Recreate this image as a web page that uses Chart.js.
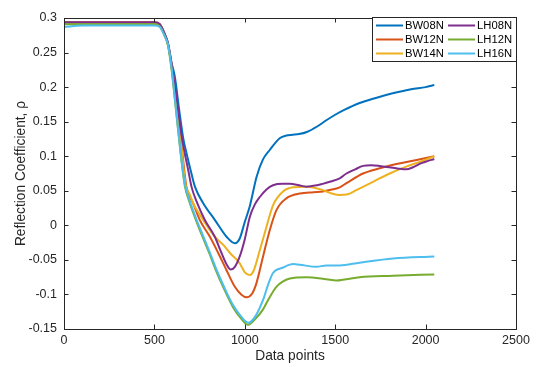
<!DOCTYPE html>
<html lang="en">
<head>
  <title>Reflection coefficient</title>
  <style>
    body {
      margin: 0;
      background: #ffffff;
    }
    #chart-container {
      width: 536px;
      height: 367px;
    }
  </style>
  <script src="https://cdn.jsdelivr.net/npm/chart.js"></script>
</head>
<body>
<div id="chart-container">
  <canvas id="lineChart" width="536" height="367"></canvas>
</div>
<script>
// Valori (x = data point, y = coefficiente di riflessione)
var bw08nX = [0, 250, 500, 530, 555, 575, 595, 613, 637, 660, 678, 700, 724, 770, 834, 899, 945, 972, 1000, 1028, 1065, 1100, 1138, 1193, 1230, 1265, 1300, 1343, 1400, 1451, 1500, 1550, 1635, 1720, 1818, 1920, 2000, 2048];
var bw08nY = [0.292, 0.292, 0.292, 0.290, 0.278, 0.263, 0.235, 0.215, 0.167, 0.125, 0.104, 0.080, 0.056, 0.032, 0.008, -0.0165, -0.026, -0.019, 0.005, 0.028, 0.070, 0.095, 0.109, 0.126, 0.130, 0.131, 0.132, 0.135, 0.143, 0.152, 0.160, 0.167, 0.177, 0.184, 0.191, 0.197, 0.200, 0.203];

var bw12nX = [0, 250, 500, 530, 555, 575, 604, 626, 648, 655, 665, 677, 714, 751, 807, 853, 899, 945, 980, 1009, 1040, 1064, 1101, 1138, 1175, 1230, 1304, 1380, 1432, 1470, 1525, 1562, 1654, 1746, 1838, 1930, 2048];
var bw12nY = [0.294, 0.294, 0.294, 0.291, 0.278, 0.262, 0.215, 0.167, 0.119, 0.104, 0.080, 0.056, 0.032, 0.0077, -0.0165, -0.040, -0.065, -0.089, -0.100, -0.104, -0.099, -0.084, -0.045, -0.007, 0.022, 0.039, 0.046, 0.048, 0.049, 0.051, 0.055, 0.061, 0.075, 0.0825, 0.0887, 0.0935, 0.100];

var bw14nX = [0, 250, 500, 530, 555, 575, 604, 626, 648, 662, 675, 695, 714, 740, 770, 834, 880, 918, 972, 1000, 1028, 1050, 1083, 1120, 1156, 1212, 1267, 1340, 1432, 1470, 1520, 1570, 1617, 1709, 1801, 1893, 1985, 2048];
var bw14nY = [0.293, 0.293, 0.293, 0.290, 0.277, 0.262, 0.215, 0.167, 0.119, 0.080, 0.056, 0.045, 0.032, 0.020, 0.0077, -0.0165, -0.028, -0.040, -0.055, -0.068, -0.072, -0.065, -0.036, -0.002, 0.029, 0.049, 0.055, 0.056, 0.051, 0.047, 0.044, 0.045, 0.051, 0.063, 0.075, 0.085, 0.0935, 0.100];

var lh08nX = [0, 250, 500, 530, 555, 575, 604, 630, 650, 668, 687, 705, 737, 779, 834, 871, 900, 921, 945, 972, 1000, 1028, 1055, 1083, 1120, 1156, 1210, 1249, 1300, 1340, 1400, 1431, 1470, 1525, 1562, 1610, 1654, 1700, 1746, 1800, 1850, 1893, 1930, 1967, 2000, 2048];
var lh08nY = [0.294, 0.294, 0.294, 0.291, 0.278, 0.264, 0.218, 0.170, 0.130, 0.104, 0.080, 0.056, 0.032, 0.0077, -0.0165, -0.040, -0.057, -0.064, -0.060, -0.045, -0.020, 0.0125, 0.030, 0.041, 0.052, 0.058, 0.060, 0.060, 0.058, 0.056, 0.058, 0.060, 0.063, 0.068, 0.075, 0.081, 0.086, 0.087, 0.086, 0.084, 0.082, 0.081, 0.084, 0.089, 0.092, 0.096];

var lh12nX = [0, 250, 500, 530, 555, 575, 595, 610, 622, 645, 656, 669, 696, 729, 766, 803, 840, 880, 934, 980, 1018, 1060, 1100, 1129, 1175, 1249, 1340, 1451, 1506, 1560, 1635, 1820, 2048];
var lh12nY = [0.291, 0.291, 0.291, 0.288, 0.275, 0.260, 0.225, 0.190, 0.160, 0.104, 0.080, 0.056, 0.032, 0.008, -0.0165, -0.040, -0.065, -0.089, -0.118, -0.135, -0.144, -0.135, -0.122, -0.108, -0.089, -0.077, -0.075, -0.078, -0.080, -0.078, -0.075, -0.073, -0.071];

var lh16nX = [0, 100, 250, 500, 530, 555, 575, 595, 610, 622, 645, 656, 669, 696, 729, 766, 803, 840, 880, 934, 980, 1020, 1060, 1101, 1130, 1156, 1212, 1267, 1304, 1396, 1451, 1525, 1635, 1820, 2048];
var lh16nY = [0.287, 0.289, 0.289, 0.289, 0.287, 0.275, 0.262, 0.228, 0.192, 0.162, 0.106, 0.082, 0.059, 0.035, 0.011, -0.013, -0.037, -0.062, -0.086, -0.115, -0.132, -0.141, -0.131, -0.108, -0.085, -0.069, -0.061, -0.056, -0.057, -0.060, -0.058, -0.058, -0.054, -0.048, -0.045];

var seriesNames = ['BW08N', 'BW12N', 'BW14N', 'LH08N', 'LH12N', 'LH16N'];
var seriesColors = ['#0072BD', '#D95319', '#EDB120', '#7E2F8E', '#77AC30', '#4DBEEE'];
var xTicks = [0, 500, 1000, 1500, 2000, 2500];
var yTicks = [-0.15, -0.1, -0.05, 0, 0.05, 0.1, 0.15, 0.2, 0.25, 0.3];

var axisColor = '#262626';
var fontFamily = '"Liberation Sans", Arial, sans-serif';

// Unisce gli array x/y in punti per Chart.js
function toPoints(xs, ys) {
  var pts = [];
  for (var i = 0; i < xs.length; i++) {
    pts.push({ x: xs[i], y: ys[i] });
  }
  return pts;
}

var allX = [bw08nX, bw12nX, bw14nX, lh08nX, lh12nX, lh16nX];
var allY = [bw08nY, bw12nY, bw14nY, lh08nY, lh12nY, lh16nY];

var datasets = [];
for (var i = 0; i < seriesNames.length; i++) {
  datasets.push({
    label: seriesNames[i],
    data: toPoints(allX[i], allY[i]),
    borderColor: seriesColors[i],
    backgroundColor: seriesColors[i],
    borderWidth: 2,
    pointRadius: 0,
    fill: false,
    cubicInterpolationMode: 'monotone',
    order: seriesNames.length - i // l'ultima serie sta sopra, come in MATLAB
  });
}

// Riquadro degli assi con tacche verso l'interno
var boxPlugin = {
  id: 'axesBox',
  afterDatasetsDraw: function(chart) {
    var ctx = chart.ctx;
    var a = chart.chartArea;
    var xs = chart.scales.x;
    var ys = chart.scales.y;
    var len = 4.5;
    ctx.save();
    ctx.strokeStyle = axisColor;
    ctx.lineWidth = 1;
    ctx.beginPath();
    xs.ticks.forEach(function(t) {
      var px = Math.round(xs.getPixelForValue(t.value)) + 0.5;
      ctx.moveTo(px, a.bottom);
      ctx.lineTo(px, a.bottom - len);
      ctx.moveTo(px, a.top);
      ctx.lineTo(px, a.top + len);
    });
    ys.ticks.forEach(function(t) {
      var py = Math.round(ys.getPixelForValue(t.value)) + 0.5;
      ctx.moveTo(a.left, py);
      ctx.lineTo(a.left + len, py);
      ctx.moveTo(a.right, py);
      ctx.lineTo(a.right - len, py);
    });
    ctx.stroke();
    ctx.strokeRect(Math.round(a.left) + 0.5, Math.round(a.top) + 0.5,
      Math.round(a.right - a.left), Math.round(a.bottom - a.top));
    ctx.restore();
  }
};

// Legenda su due colonne in alto a destra
var legendPlugin = {
  id: 'matlabLegend',
  afterDraw: function(chart) {
    var ctx = chart.ctx;
    var a = chart.chartArea;
    var w = 144, h = 44;
    var left = Math.round(a.right) - w + 0.5;
    var top = Math.round(a.top) - 0.5;
    ctx.save();
    ctx.fillStyle = '#ffffff';
    ctx.fillRect(left, top, w, h);
    ctx.strokeStyle = axisColor;
    ctx.lineWidth = 1;
    ctx.strokeRect(left, top, w, h);
    ctx.font = '11.25px ' + fontFamily;
    ctx.textBaseline = 'middle';
    ctx.textAlign = 'left';
    chart.data.datasets.forEach(function(ds, i) {
      var col = Math.floor(i / 3);
      var row = i % 3;
      var x0 = left + 3.5 + col * 72;
      var y0 = top + 8 + row * 14;
      ctx.strokeStyle = ds.borderColor;
      ctx.lineWidth = 2;
      ctx.beginPath();
      ctx.moveTo(x0, y0);
      ctx.lineTo(x0 + 27, y0);
      ctx.stroke();
      ctx.fillStyle = '#000000';
      ctx.fillText(ds.label, x0 + 29, y0 + 0.5);
    });
    ctx.restore();
  }
};

var ctx = document.getElementById('lineChart').getContext('2d');
var lineChart = new Chart(ctx, {
  type: 'line',
  data: { datasets: datasets },
  plugins: [boxPlugin, legendPlugin],
  options: {
    responsive: false,
    animation: false,
    layout: { padding: { top: 18, right: 20, left: 0, bottom: 0 } },
    plugins: {
      legend: { display: false },
      tooltip: { enabled: false }
    },
    scales: {
      x: {
        type: 'linear',
        min: 0,
        max: 2500,
        afterBuildTicks: function(scale) {
          scale.ticks = xTicks.map(function(v) { return { value: v }; });
        },
        afterFit: function(scale) { scale.height = 38; },
        grid: { display: false, drawTicks: false },
        border: { display: false },
        ticks: {
          color: axisColor,
          font: { family: fontFamily, size: 12.5 },
          padding: 4,
          maxRotation: 0,
          callback: function(v) { return String(v); }
        },
        title: {
          display: true,
          text: 'Data points',
          color: axisColor,
          font: { family: fontFamily, size: 13.75 },
          padding: { top: 0, bottom: 3 }
        }
      },
      y: {
        type: 'linear',
        min: -0.15,
        max: 0.3,
        afterBuildTicks: function(scale) {
          scale.ticks = yTicks.map(function(v) { return { value: v }; });
        },
        afterFit: function(scale) { scale.width = 64; },
        grid: { display: false, drawTicks: false },
        border: { display: false },
        ticks: {
          color: axisColor,
          font: { family: fontFamily, size: 12.5 },
          padding: 7,
          callback: function(v) { return String(parseFloat(v.toFixed(2))); }
        },
        title: {
          display: true,
          text: 'Reflection Coefficient, ρ',
          color: axisColor,
          font: { family: fontFamily, size: 13.75 },
          padding: { top: 13, bottom: 0 }
        }
      }
    }
  }
});
</script>
</body>
</html>
